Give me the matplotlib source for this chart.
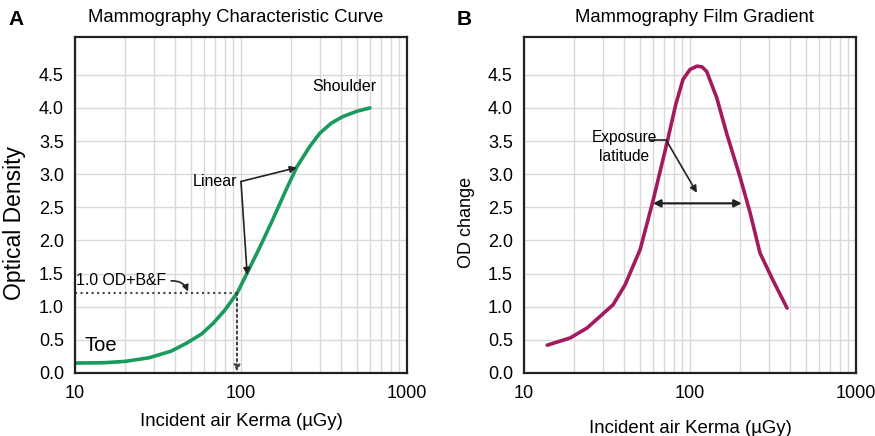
import matplotlib.pyplot as plt
import numpy as np

plt.rcParams['font.family'] = ['Liberation Sans', 'DejaVu Sans']

# characteristic curve (panel A)
kerma_a = [10, 15, 20, 28, 38, 47, 58, 68, 80, 95, 109, 130, 155, 185, 217, 260, 299, 350, 411, 500, 598]
od_a = [0.15, 0.155, 0.175, 0.23, 0.33, 0.45, 0.59, 0.75, 0.95, 1.21, 1.51, 1.90, 2.31, 2.74, 3.11, 3.42, 3.62, 3.77, 3.87, 3.95, 4.0]

# film gradient (panel B)
kerma_b = [13.8, 19, 24, 34.4, 40.6, 50, 55.8, 60, 72.6, 82, 90.7, 100, 110, 118, 126, 145, 166, 200, 230, 264, 316, 384]
grad_b = [0.42, 0.53, 0.68, 1.03, 1.33, 1.86, 2.31, 2.61, 3.47, 4.05, 4.43, 4.58, 4.63, 4.62, 4.55, 4.15, 3.62, 2.96, 2.42, 1.81, 1.40, 0.98]

yticks = [0.0, 0.5, 1.0, 1.5, 2.0, 2.5, 3.0, 3.5, 4.0, 4.5]
xticks = [10, 100, 1000]
xlabel = 'Incident air Kerma (\u00b5Gy)'

GRID = '#d9d9d9'


def setup(ax, title, title_x, ylabel, ylabel_size, ylabel_x, xlabel_y):
    ax.set_xscale('log')
    ax.set_xlim(10, 1000)
    ax.set_ylim(0, 5.07)
    ax.set_yticks(yticks)
    ax.set_yticklabels(['%.1f' % v for v in yticks])
    ax.set_xticks(xticks)
    ax.set_xticklabels([str(v) for v in xticks])
    ax.grid(True, which='both', color=GRID, linewidth=1.0)
    ax.set_axisbelow(True)
    ax.tick_params(which='both', length=0, labelsize=13)
    ax.tick_params(axis='y', pad=8)
    ax.tick_params(axis='x', pad=9)
    for s in ax.spines.values():
        s.set_linewidth(1.6)
        s.set_color('#222222')
    ax.text(title_x, 1.057, title, fontsize=13.3, ha='center', va='center', transform=ax.transAxes)
    ax.set_ylabel(ylabel, fontsize=ylabel_size)
    ax.yaxis.set_label_coords(ylabel_x, 0.447)
    ax.yaxis.label.set_va('center')
    ax.set_xlabel(xlabel, fontsize=13.4)
    ax.xaxis.set_label_coords(0.5, xlabel_y)
    ax.xaxis.label.set_va('center')


fig = plt.figure(figsize=(8.75, 4.36), dpi=100)
ax1 = fig.add_axes([0.0857, 0.1445, 0.3794, 0.7706])
ax2 = fig.add_axes([0.5989, 0.1445, 0.3794, 0.7706])

setup(ax1, 'Mammography Characteristic Curve', 0.485, 'Optical Density', 16.5, -0.181, -0.143)
setup(ax2, 'Mammography Film Gradient', 0.512, 'OD change', 13, -0.172, -0.164)

ax1.plot(kerma_a, od_a, color='#1b9a5e', linewidth=2.6, solid_capstyle='round')
ax2.plot(kerma_b, grad_b, color='#a31a5e', linewidth=2.6, solid_capstyle='round')

fig.text(0.010, 0.955, 'A', fontsize=15, fontweight='bold', va='center')
fig.text(0.522, 0.955, 'B', fontsize=15, fontweight='bold', va='center')

# panel A annotations
arr = dict(arrowstyle='-|>', color='#222222', lw=1.2, mutation_scale=10, shrinkA=0, shrinkB=0)
ax1.text(420, 4.33, 'Shoulder', fontsize=11.5, ha='center', va='center')
ax1.text(70, 2.89, 'Linear', fontsize=11.5, ha='center', va='center')
ax1.annotate('', xy=(217, 3.1), xytext=(100, 2.89), arrowprops=arr)
ax1.annotate('', xy=(109, 1.48), xytext=(100, 2.89), arrowprops=arr)
ax1.text(10.1, 1.39, '1.0 OD+B&F', fontsize=11.4, ha='left', va='center')
ax1.annotate('', xy=(48, 1.23), xytext=(38, 1.39),
             arrowprops=dict(arrowstyle='-|>', color='#222222', lw=1.2, mutation_scale=9,
                             shrinkA=0, shrinkB=0, connectionstyle='arc3,rad=-0.35'))
ax1.plot([10, 94.6], [1.21, 1.21], color='#444444', linestyle=':', linewidth=1.5)
ax1.annotate('', xy=(94.6, 0.02), xytext=(94.6, 1.21),
             arrowprops=dict(arrowstyle='-|>', color='#444444', lw=1.5, linestyle=':',
                             mutation_scale=9, shrinkA=0, shrinkB=0))
ax1.text(11.4, 0.41, 'Toe', fontsize=14.5, ha='left', va='center')

# panel B annotations
ax2.text(40, 3.56, 'Exposure', fontsize=11.2, ha='center', va='center')
ax2.text(40, 3.27, 'latitude', fontsize=11.2, ha='center', va='center')
ax2.plot([58, 72], [3.51, 3.51], color='#222222', linewidth=1.2)
ax2.annotate('', xy=(110, 2.72), xytext=(72, 3.51), arrowprops=arr)
ax2.annotate('', xy=(205, 2.56), xytext=(59.8, 2.56),
             arrowprops=dict(arrowstyle='<|-|>', color='#222222', lw=1.6, mutation_scale=11,
                             shrinkA=0, shrinkB=0))

fig.savefig('out.png', dpi=100)
